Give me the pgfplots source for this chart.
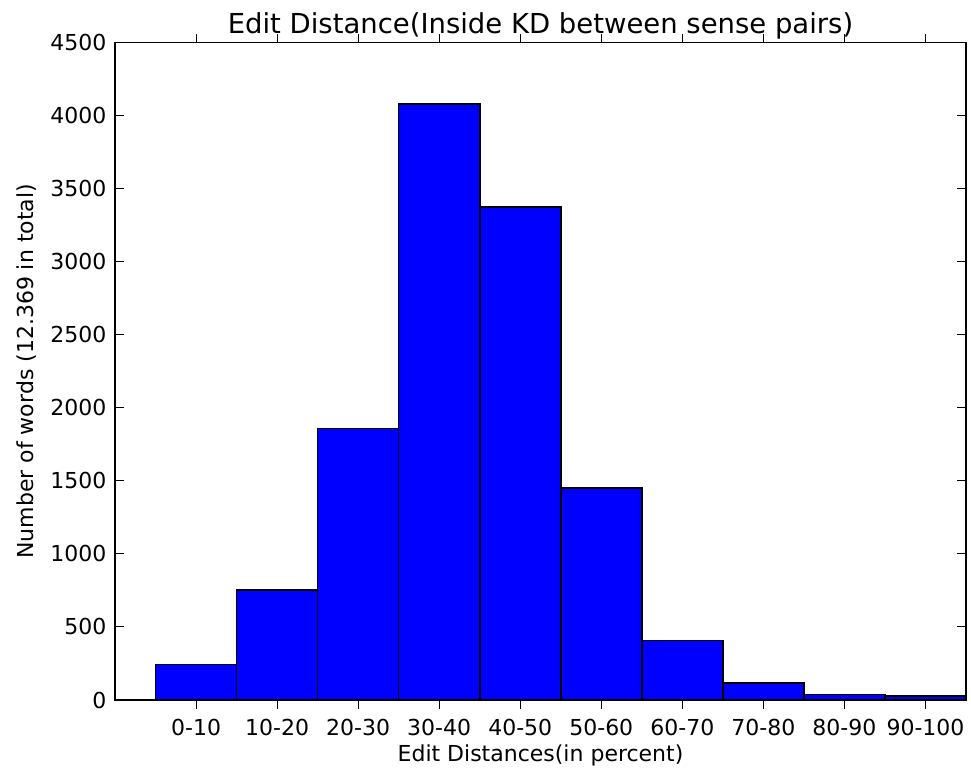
\documentclass[border=0pt]{standalone}
\usepackage{pgfplots}
\pgfplotsset{compat=1.18}
\usepackage{fontspec}
\setmainfont{DejaVu Sans}
\begin{document}
\begin{tikzpicture}
\useasboundingbox (-86.25pt,-52.5pt) rectangle (642pt,525pt);
\begin{axis}[
  scale only axis,
  at={(0,0)}, anchor=south west,
  width=638.25pt, height=493pt,
  xmin=-1, xmax=9.5,
  ymin=0, ymax=4500,
  ytick={0,500,...,4500},
  xtick={0,...,9},
  xticklabels={0-10,10-20,20-30,30-40,40-50,50-60,60-70,70-80,80-90,90-100},
  /pgf/number format/assume math mode=true,
  /pgf/number format/1000 sep={},
  tick label style={font=\fontsize{16.5}{19}\selectfont},
  xticklabel style={anchor=base, yshift=-20pt},
  yticklabel style={anchor=east, xshift=-3pt},
  every axis y label/.style={at={(axis description cs:0,0.5)}, xshift=-66pt, rotate=90, anchor=center, font=\fontsize{16.5}{19}\selectfont},
  every axis x label/.style={at={(axis description cs:0.5,0)}, yshift=-46pt, anchor=base, font=\fontsize{16.5}{19}\selectfont},
  every axis title/.style={at={(axis description cs:0.5,1)}, yshift=6.5pt, anchor=base, font=\fontsize{20.6}{24}\selectfont},
  title={Edit Distance(Inside KD between sense pairs)},
  xlabel={Edit Distances(in percent)},
  ylabel={Number of words (12.369 in total)},
  major tick length=6.5pt,
  tick style={black, line width=0.7pt},
  axis line style={black, line width=1pt},
  axis on top,
  ybar, bar width=1,
]
\addplot[fill={rgb,255:red,0;green,0;blue,255}, draw=black, line width=1.2pt]
  coordinates {(0,244) (1,752) (2,1858) (3,4082) (4,3375) (5,1450) (6,406) (7,116) (8,39) (9,27)};
\end{axis}
\end{tikzpicture}
\end{document}
